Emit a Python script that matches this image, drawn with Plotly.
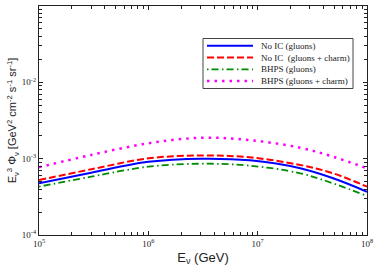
import plotly.graph_objects as go

energy = [1e5, 3e5, 1e6, 3.1e6, 8.5e6, 2.45e7, 4.9e7, 1e8]
noic_gluons = [4.75e-4, 6.55e-4, 9.1e-4, 1.0e-3, 9.5e-4, 7.48e-4, 5.53e-4, 3.69e-4]
noic_charm = [5.25e-4, 7.26e-4, 1.01e-3, 1.10e-3, 1.04e-3, 8.26e-4, 6.43e-4, 4.30e-4]
bhps_gluons = [4.30e-4, 5.81e-4, 7.85e-4, 8.59e-4, 8.09e-4, 6.43e-4, 4.75e-4, 3.24e-4]
bhps_charm = [7.71e-4, 1.12e-3, 1.59e-3, 1.88e-3, 1.75e-3, 1.39e-3, 1.06e-3, 7.48e-4]

x_tickvals = [1e5, 1e6, 1e7, 1e8]
x_ticktext = ["10<sup>5</sup>", "10<sup>6</sup>", "10<sup>7</sup>", "10<sup>8</sup>"]
y_tickvals = [1e-4, 1e-3, 1e-2, 1e-1]
y_ticktext = ["10<sup>-4</sup>", "10<sup>-3</sup>", "10<sup>-2</sup>", "10<sup>-1</sup>"]

names = ["No IC (gluons)", "No IC  (gluons + charm)", "BHPS (gluons)", "BHPS (gluons + charm)"]
series = [noic_gluons, noic_charm, bhps_gluons, bhps_charm]
colors = ["#0000ff", "#ff0000", "#008c00", "#ff00ff"]
dashes = ["solid", "7px,3px", "1.5px,3px,7px,3.5px", "2.5px,5px"]
widths = [2, 2, 1.8, 2.5]

fig = go.Figure()
for n, s, c, d, w in zip(names, series, colors, dashes, widths):
    fig.add_trace(go.Scatter(x=energy, y=s, name=n, mode="lines", showlegend=False,
                             line=dict(color=c, dash=d, width=w, shape="spline", smoothing=1.0)))

# hand-built compact legend (paper coordinates)
W, H = 374, 269
ml, mr, mt, mb = 39, 7, 6, 34
pw, ph = W - ml - mr, H - mt - mb
def px(x):
    return (x - ml) / pw
def py(y):
    return 1 - (y - mt) / ph

fig.add_shape(type="rect", xref="paper", yref="paper",
              x0=px(203), x1=px(353), y0=py(88.5), y1=py(38.5),
              line=dict(color="#444444", width=1), fillcolor="white", layer="above")
for i, (n, c, d, w) in enumerate(zip(names, colors, dashes, widths)):
    yy = py(45.7 + i * 11.8)
    fig.add_shape(type="line", xref="paper", yref="paper",
                  x0=px(207), x1=px(253), y0=yy, y1=yy,
                  line=dict(color=c, dash=d, width=w), layer="above")
    fig.add_annotation(x=px(259), y=yy, xref="paper", yref="paper", text=n,
                       showarrow=False, xanchor="left", yanchor="middle",
                       font=dict(family="Liberation Serif", size=9, color="#222222"))

axis_common = dict(
    type="log", showgrid=False, zeroline=False, showline=True, linecolor="#222222",
    linewidth=1.3, mirror="allticks", ticks="inside", ticklen=4, tickwidth=1,
    tickcolor="#222222", automargin=False,
    tickfont=dict(family="Liberation Serif", size=9, color="#222222"),
    minor=dict(ticks="inside", dtick="D1", ticklen=2.5, tickwidth=1, tickcolor="#222222", showgrid=False),
)

fig.update_layout(
    width=W, height=H,
    margin=dict(l=ml, r=mr, t=mt, b=mb, autoexpand=False),
    paper_bgcolor="white", plot_bgcolor="white",
    showlegend=False,
    xaxis=dict(axis_common, range=[5, 8], tickvals=x_tickvals, ticktext=x_ticktext,
               title=dict(text="E<sub>ν</sub> (GeV)", standoff=4,
                          font=dict(family="Liberation Sans", size=13, color="#222222"))),
    yaxis=dict(axis_common, range=[-4, -1], tickvals=y_tickvals, ticktext=y_ticktext,
               title=dict(text="E<sub>ν</sub><sup>3</sup> Φ<sub>ν</sub> [GeV<sup>2</sup> cm<sup>-2</sup> s<sup>-1</sup> sr<sup>-1</sup>]",
                          standoff=2,
                          font=dict(family="Liberation Sans", size=11, color="#222222"))),
)

fig.write_html("out.html", config={"displayModeBar": False},
               post_script="document.body.style.margin='0';document.body.style.overflow='hidden';")
